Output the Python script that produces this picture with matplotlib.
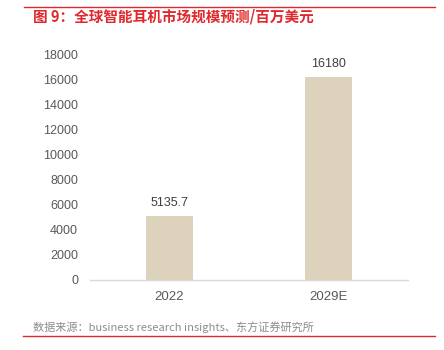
import matplotlib.pyplot as plt
from matplotlib.lines import Line2D

plt.rcParams['font.family'] = ['Liberation Sans', 'Noto Sans CJK SC', 'DejaVu Sans']

years = ['2022', '2029E']
market = [5135.7, 16180]
value_labels = ['5135.7', '16180']
yticks = [0, 2000, 4000, 6000, 8000, 10000, 12000, 14000, 16000, 18000]

red = '#E0282C'
gray = '#595959'

fig = plt.figure(figsize=(4.44, 3.5), dpi=100)
ax = fig.add_axes([90 / 444, 0.2, 318 / 444, 0.6457])

x = range(len(years))
bars = ax.bar(x, market, width=0.29, color='#DDD3BC', zorder=2)
for b, lab in zip(bars, value_labels):
    ax.annotate(lab, (b.get_x() + b.get_width() / 2, b.get_height()),
                xytext=(0, 5), textcoords='offset points',
                ha='center', va='bottom', fontsize=9, color='#404040')

ax.set_xlim(-0.5, 1.5)
ax.set_ylim(0, 18000)
ax.set_xticks(list(x))
ax.set_xticklabels(years)
ax.set_yticks(yticks)
ax.tick_params(axis='y', length=0, pad=8.6, labelsize=9, labelcolor=gray)
ax.tick_params(axis='x', length=0, pad=8, labelsize=9.5, labelcolor=gray)
for s in ['top', 'right', 'left']:
    ax.spines[s].set_visible(False)
ax.spines['bottom'].set_color('#D9D9D9')
ax.spines['bottom'].set_linewidth(1)

# header / footer rules
fig.add_artist(Line2D([24 / 444, 435 / 444], [1 - 7 / 350] * 2, color=red, lw=1))
fig.add_artist(Line2D([23 / 444, 435 / 444], [1 - 336 / 350] * 2, color=red, lw=1))

fig.text(33 / 444, 1 - 17 / 350, '图 9：全球智能耳机市场规模预测/百万美元',
         family=['Noto Sans CJK SC', 'DejaVu Sans'], fontsize=10.5, fontweight='bold',
         color=red, ha='left', va='center')
fig.text(33 / 444, 1 - 327 / 350, '数据来源：business research insights、东方证券研究所',
         family=['Noto Sans CJK SC', 'DejaVu Sans'], fontsize=8,
         color='#8C8C8C', ha='left', va='center')

fig.savefig('out.png', dpi=100)
